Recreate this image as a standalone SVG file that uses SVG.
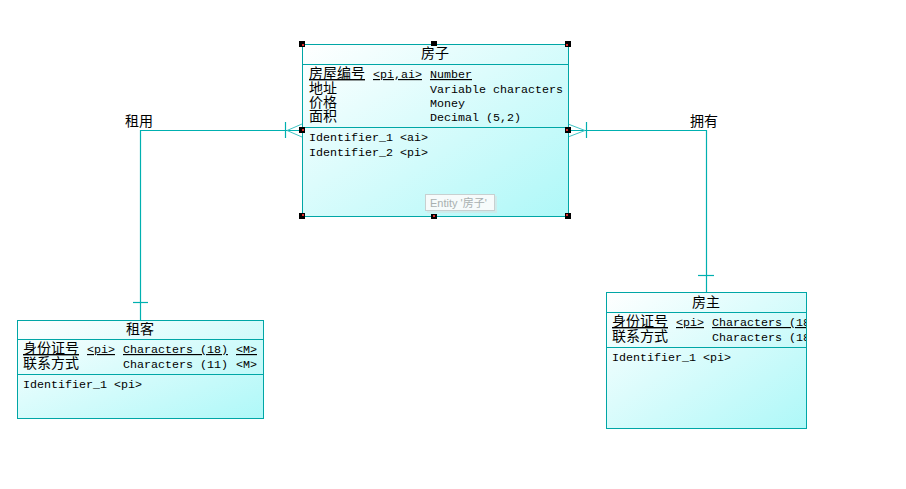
<svg xmlns="http://www.w3.org/2000/svg" width="906" height="489" viewBox="0 0 906 489">
<defs>
<linearGradient id="g" x1="0" y1="0" x2="1" y2="1">
<stop offset="0" stop-color="#ffffff"/>
<stop offset="1" stop-color="#aef8f8"/>
</linearGradient>
<clipPath id="clipFZ"><rect x="606" y="292" width="200" height="136"/></clipPath>
</defs>
<style>
.box{fill:url(#g);stroke:#00a6a6;stroke-width:1}
.sep{stroke:#00a6a6;stroke-width:1}
.ln{stroke:#00b0b0;stroke-width:1.2;fill:none}
.cf{stroke:#40c4c4;stroke-width:1;fill:none}
.m{font-family:"Liberation Mono","Noto Sans CJK SC",monospace;font-size:11.67px;fill:#000}
.c{font-family:"Noto Sans CJK SC","Liberation Sans",sans-serif;font-size:14px;fill:#000}
.t{font-family:"Noto Sans CJK SC","Liberation Sans",sans-serif;font-size:14px;fill:#000;text-anchor:middle}
.u{text-decoration:underline}
.h{fill:#000}
.hr{fill:#e03030}
</style>
<rect width="906" height="489" fill="#fff"/>
<g id="connectors">
<polyline class="ln" points="302,130.5 140.5,130.5 140.5,320"/>
<line class="ln" x1="285.5" y1="122" x2="285.5" y2="138"/>
<polyline class="cf" points="302,124 287,130.5 302,137"/>
<line class="ln" x1="133" y1="302.5" x2="148" y2="302.5"/>
<text class="c" x="125" y="126">租用</text>
<polyline class="ln" points="568,130.5 706.5,130.5 706.5,292"/>
<line class="ln" x1="586.5" y1="122" x2="586.5" y2="138"/>
<polyline class="cf" points="568,124 585,130.5 568,137"/>
<line class="ln" x1="698" y1="275.5" x2="714" y2="275.5"/>
<text class="c" x="690" y="126">拥有</text>
</g>
<g id="fangzi">
<rect class="box" x="302.5" y="44.5" width="266" height="172"/>
<line class="sep" x1="302.5" y1="64.5" x2="568.5" y2="64.5"/>
<line class="sep" x1="302.5" y1="127.5" x2="568.5" y2="127.5"/>
<text class="t" x="435" y="58">房子</text>
<text class="c u" x="309" y="78">房屋编号</text>
<text class="m u" x="373" y="78">&lt;pi,ai&gt;</text>
<text class="m u" x="430" y="78">Number</text>
<text class="c" x="309" y="93">地址</text>
<text class="m" x="430" y="93">Variable characters</text>
<text class="c" x="309" y="107">价格</text>
<text class="m" x="430" y="107">Money</text>
<text class="c" x="309" y="121">面积</text>
<text class="m" x="430" y="121">Decimal (5,2)</text>
<text class="m" x="309" y="141">Identifier_1 &lt;ai&gt;</text>
<text class="m" x="309" y="156">Identifier_2 &lt;pi&gt;</text>
<rect x="427" y="196" width="70" height="17" fill="#ddd" opacity="0.5"/>
<rect x="425.5" y="194.5" width="69" height="16" fill="#f6fbfb" stroke="#c8d0d0"/>
<text x="430" y="207" font-family="'Liberation Sans','Noto Sans CJK SC',sans-serif" font-size="11" fill="#a8b0b0">Entity '房子'</text>
<rect class="h" x="299" y="41" width="6" height="6"/>
<rect class="h" x="431" y="41" width="6" height="5"/>
<rect class="h" x="565" y="41" width="6" height="6"/>
<rect class="h" x="299" y="127" width="6" height="6"/>
<rect class="h" x="565" y="127" width="6" height="6"/>
<rect class="h" x="299" y="213" width="6" height="6"/>
<rect class="h" x="431" y="214" width="6" height="5"/>
<rect class="h" x="565" y="213" width="6" height="6"/>
<rect class="hr" x="302" y="44" width="2" height="2"/>
<rect class="hr" x="566" y="44" width="2" height="2"/>
<rect class="hr" x="302" y="129" width="2" height="2"/>
<rect class="hr" x="566" y="129" width="2" height="2"/>
<rect class="hr" x="302" y="214" width="2" height="2"/>
<rect class="hr" x="433" y="215" width="2" height="2"/>
<rect class="hr" x="566" y="214" width="2" height="2"/>
</g>
<g id="zuke">
<rect class="box" x="17.5" y="320.5" width="246" height="98"/>
<line class="sep" x1="17.5" y1="339.5" x2="263.5" y2="339.5"/>
<line class="sep" x1="17.5" y1="374.5" x2="263.5" y2="374.5"/>
<text class="t" x="140" y="334">租客</text>
<text class="c u" x="23" y="353">身份证号</text>
<text class="m u" x="87" y="353">&lt;pi&gt;</text>
<text class="m u" x="123" y="353">Characters (18)</text>
<text class="m u" x="236" y="353">&lt;M&gt;</text>
<text class="c" x="23" y="368">联系方式</text>
<text class="m" x="123" y="368">Characters (11)</text>
<text class="m" x="236" y="368">&lt;M&gt;</text>
<text class="m" x="23" y="388">Identifier_1 &lt;pi&gt;</text>
</g>
<g id="fangzhu">
<rect class="box" x="606.5" y="292.5" width="200" height="136"/>
<line class="sep" x1="606.5" y1="312.5" x2="806.5" y2="312.5"/>
<line class="sep" x1="606.5" y1="347.5" x2="806.5" y2="347.5"/>
<text class="t" x="706" y="307">房主</text>
<g clip-path="url(#clipFZ)">
<text class="c u" x="612" y="326">身份证号</text>
<text class="m u" x="676" y="326">&lt;pi&gt;</text>
<text class="m u" x="712" y="326">Characters (18)</text>
<text class="c" x="612" y="341">联系方式</text>
<text class="m" x="712" y="341">Characters (18)</text>
</g>
<text class="m" x="612" y="361">Identifier_1 &lt;pi&gt;</text>
</g>
</svg>
